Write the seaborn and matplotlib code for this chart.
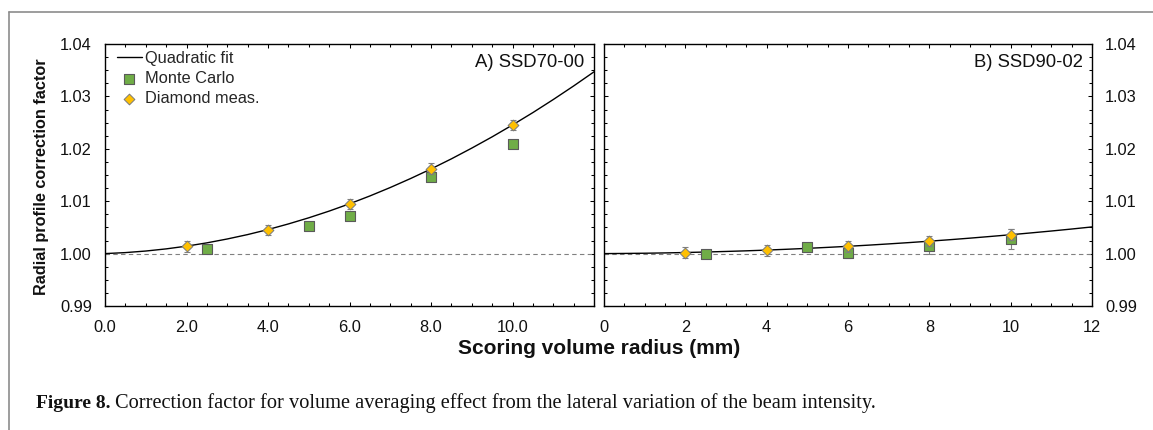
import numpy as np
import pandas as pd
import matplotlib
matplotlib.use("Agg")
import matplotlib.pyplot as plt
from matplotlib.lines import Line2D
from matplotlib.ticker import MultipleLocator, FixedLocator
import seaborn as sns

# ---------------- data ----------------
radius_diamond = [2, 4, 6, 8, 10]
radius_mc = [2.5, 5, 6, 8, 10]

diamond_a = [1.0014, 1.0045, 1.0095, 1.0162, 1.0245]
diamond_a_err = [0.0010, 0.0010, 0.0010, 0.0010, 0.0010]
mc_a = [1.0009, 1.0053, 1.0072, 1.0146, 1.0209]
mc_a_err = [0.0004, 0.0004, 0.0004, 0.0004, 0.0004]

diamond_b = [1.0002, 1.0006, 1.0014, 1.0024, 1.0036]
diamond_b_err = [0.0010, 0.0010, 0.0010, 0.0010, 0.0010]
mc_b = [1.0000, 1.0012, 1.0002, 1.0014, 1.0028]
mc_b_err = [0.0005, 0.0005, 0.0011, 0.0014, 0.0019]

# quadratic-fit curves, every 0.5 mm
fit_radius = [0, 0.5, 1, 1.5, 2, 2.5, 3, 3.5, 4, 4.5, 5, 5.5, 6,
              6.5, 7, 7.5, 8, 8.5, 9, 9.5, 10, 10.5, 11, 11.5, 12]
fit_a = [1.00000, 1.00019, 1.00049, 1.00090, 1.00142, 1.00205, 1.00279,
         1.00363, 1.00459, 1.00566, 1.00683, 1.00811, 1.00950, 1.01100,
         1.01261, 1.01433, 1.01615, 1.01808, 1.02013, 1.02228, 1.02455,
         1.02691, 1.02940, 1.03199, 1.03469]
fit_b = [1.00000, 1.00003, 1.00007, 1.00013, 1.00021, 1.00030, 1.00041,
         1.00053, 1.00067, 1.00083, 1.00100, 1.00119, 1.00139, 1.00161,
         1.00185, 1.00210, 1.00237, 1.00265, 1.00295, 1.00327, 1.00360,
         1.00395, 1.00431, 1.00469, 1.00509]

panel_titles = ["A) SSD70-00", "B) SSD90-02"]
xtick_a = [0, 2, 4, 6, 8, 10]
xtick_a_labels = ["0.0", "2.0", "4.0", "6.0", "8.0", "10.0"]
xtick_b = [0, 2, 4, 6, 8, 10, 12]
xtick_b_labels = ["0", "2", "4", "6", "8", "10", "12"]
ytick = [0.99, 1.00, 1.01, 1.02, 1.03, 1.04]
ytick_labels = ["0.99", "1.00", "1.01", "1.02", "1.03", "1.04"]

xlabel = "Scoring volume radius (mm)"
ylabel = "Radial profile correction factor"
legend_labels = ["Quadratic fit", "Monte Carlo", "Diamond meas."]
caption_bold = "Figure 8."
caption_text = ("Correction factor for volume averaging effect from the lateral "
                "variation of the beam intensity.")

# ---------------- style ----------------
sns.set_theme(style="ticks")
plt.rcParams["font.family"] = ["Liberation Sans", "DejaVu Sans"]
plt.rcParams["axes.linewidth"] = 1.0

GREEN = "#70AD47"
GOLD = "#FFC000"
EDGE = "#5a5a5a"
ERR = "#808080"

W, H = 1153, 430
fig = plt.figure(figsize=(W / 100, H / 100), dpi=100)
fig.patch.set_facecolor("white")

top_px, bot_px = 44, 306
axA = fig.add_axes([105 / W, 1 - bot_px / H, (594 - 105) / W, (bot_px - top_px) / H])
axB = fig.add_axes([604 / W, 1 - bot_px / H, (1092 - 604) / W, (bot_px - top_px) / H])

panels = [
    (axA, fit_a, mc_a, mc_a_err, diamond_a, diamond_a_err, xtick_a, xtick_a_labels, panel_titles[0]),
    (axB, fit_b, mc_b, mc_b_err, diamond_b, diamond_b_err, xtick_b, xtick_b_labels, panel_titles[1]),
]

for i, (ax, fit, mc, mce, dia, diae, xt, xtl, title) in enumerate(panels):
    ax.set_facecolor("white")
    ax.axhline(1.0, color="#808080", lw=0.8, ls=(0, (4, 3)), zorder=1)

    fit_df = pd.DataFrame({"r": fit_radius, "f": fit})
    sns.lineplot(data=fit_df, x="r", y="f", ax=ax, color="black", lw=1.0,
                 label=legend_labels[0], zorder=3)

    ax.errorbar(radius_mc, mc, yerr=mce, fmt="none", ecolor=ERR, elinewidth=0.8,
                capsize=2, capthick=0.8, zorder=2)
    ax.errorbar(radius_diamond, dia, yerr=diae, fmt="none", ecolor=ERR, elinewidth=0.8,
                capsize=2, capthick=0.8, zorder=4)

    mc_df = pd.DataFrame({"r": radius_mc, "f": mc})
    sns.scatterplot(data=mc_df, x="r", y="f", ax=ax, marker="s", s=62, color=GREEN,
                    edgecolor=EDGE, linewidth=0.8, label=legend_labels[1], zorder=3.5)
    dia_df = pd.DataFrame({"r": radius_diamond, "f": dia})
    sns.scatterplot(data=dia_df, x="r", y="f", ax=ax, marker="D", s=30, color=GOLD,
                    edgecolor="#7a7a7a", linewidth=0.7, label=legend_labels[2], zorder=5)

    ax.set_xlim(0, 12)
    ax.set_ylim(0.99, 1.04)
    ax.xaxis.set_major_locator(FixedLocator(xt))
    ax.set_xticklabels(xtl)
    ax.xaxis.set_minor_locator(MultipleLocator(0.5))
    ax.yaxis.set_major_locator(FixedLocator(ytick))
    ax.set_yticklabels(ytick_labels)
    ax.yaxis.set_minor_locator(MultipleLocator(0.0025))
    ax.set_xlabel("")
    ax.set_ylabel("")
    for sp in ax.spines.values():
        sp.set_visible(True)
        sp.set_color("black")
        sp.set_linewidth(1.0)
    ax.tick_params(which="both", direction="in", top=True, right=True,
                   color="black", width=0.75)
    ax.tick_params(which="major", length=3.0)
    ax.tick_params(which="minor", length=2.3)
    ax.tick_params(axis="x", which="major", labelsize=11.8, pad=10.0, labelcolor="#111111")
    ax.tick_params(axis="y", which="major", labelsize=11.8, pad=9.5, labelcolor="#111111")
    if i == 1:
        ax.tick_params(axis="y", labelleft=False, labelright=True)

    tx = 0.9796 if i == 0 else 0.9816
    ax.text(tx, 0.929, title, transform=ax.transAxes, ha="right", va="center",
            fontsize=13.3, color="#111111")

    leg = ax.get_legend()
    if leg is not None:
        leg.remove()

handles, labels = axA.get_legend_handles_labels()
order = [labels.index(l) for l in legend_labels]
axA.legend([handles[k] for k in order], [labels[k] for k in order],
           loc="upper left", bbox_to_anchor=(0.0245, 0.974), borderaxespad=0,
           borderpad=0, frameon=False, fontsize=11.8, handlelength=1.5,
           handletextpad=0.2, labelspacing=0.32, scatterpoints=1)

# axis labels
fig.text(599 / W, 1 - 348 / H, xlabel, ha="center", va="center",
         fontsize=15, fontweight="bold", color="#111111")
fig.text(42 / W, 1 - 177 / H, ylabel, ha="center", va="center", rotation=90,
         fontsize=11.7, fontweight="bold", color="#111111")

# outer frame (gray lines at top and left)
fig.add_artist(Line2D([9 / W, 1.0], [1 - 12 / H, 1 - 12 / H], transform=fig.transFigure,
                      color="#8c8c8c", lw=1.2))
fig.add_artist(Line2D([9 / W, 9 / W], [0.0, 1 - 12 / H], transform=fig.transFigure,
                      color="#8c8c8c", lw=1.2))

# caption
renderer = fig.canvas.get_renderer()
cap_y = 1 - 403 / H
serif = ["Liberation Serif", "DejaVu Serif"]
t1 = fig.text(36 / W, cap_y, caption_bold, ha="left", va="center", fontsize=11,
              fontweight="bold", family=serif, color="#111111")
w1 = t1.get_window_extent(renderer).width
t1.set_fontsize(11 * 74 / w1)
t2 = fig.text(115 / W, cap_y, caption_text, ha="left", va="center", fontsize=11,
              family=serif, color="#111111")
w2 = t2.get_window_extent(renderer).width
t2.set_fontsize(11 * 762 / w2)

fig.savefig("out.png", dpi=100, facecolor="white")
